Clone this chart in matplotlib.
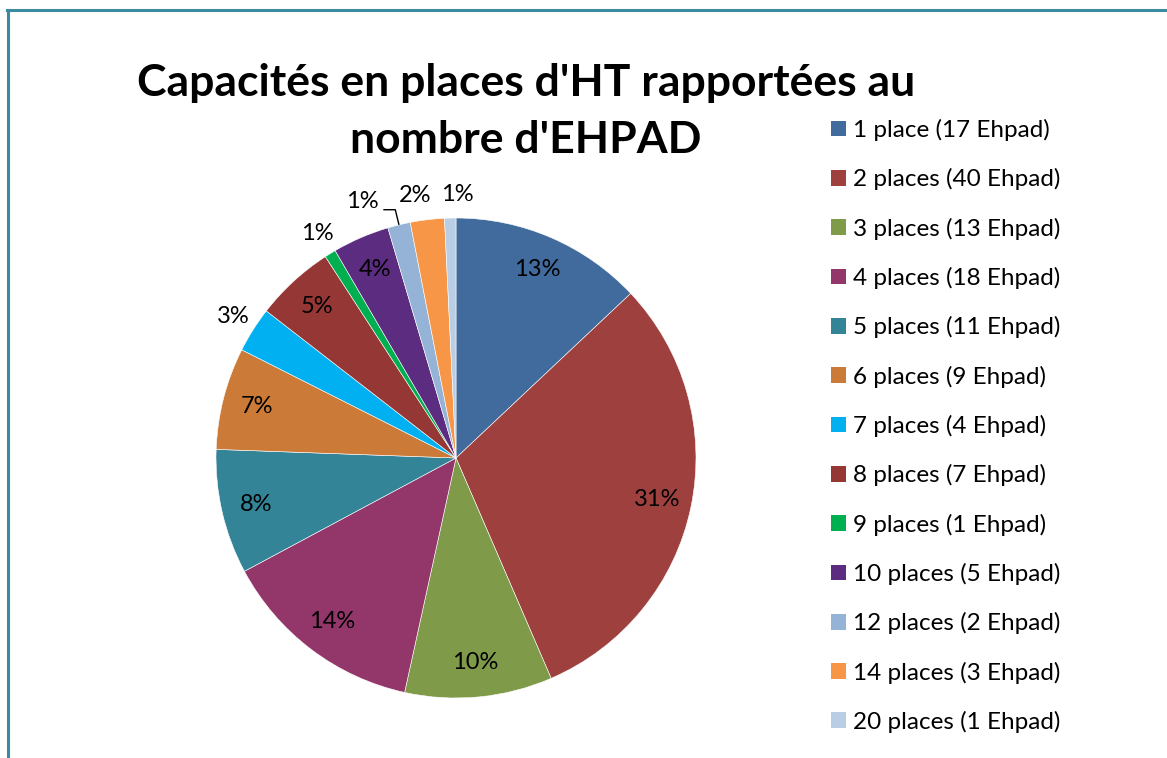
import numpy as np
import matplotlib
matplotlib.use("Agg")
import matplotlib.pyplot as plt
from matplotlib.lines import Line2D
from matplotlib.patches import Patch

categories = ["1 place (17 Ehpad)", "2 places (40 Ehpad)", "3 places (13 Ehpad)",
              "4 places (18 Ehpad)", "5 places (11 Ehpad)", "6 places (9 Ehpad)",
              "7 places (4 Ehpad)", "8 places (7 Ehpad)", "9 places (1 Ehpad)",
              "10 places (5 Ehpad)", "12 places (2 Ehpad)", "14 places (3 Ehpad)",
              "20 places (1 Ehpad)"]
counts = [17, 40, 13, 18, 11, 9, 4, 7, 1, 5, 2, 3, 1]
pct_labels = ["13%", "31%", "10%", "14%", "8%", "7%", "3%", "5%", "1%", "4%", "1%", "2%", "1%"]
colors = ["#416B9D", "#9E413E", "#7F9A48", "#93376B", "#338497", "#CC7A37",
          "#00B0F0", "#953735", "#00B050", "#5B2C80", "#95B3D7", "#F79646", "#B9CDE5"]
outside = [False, False, False, False, False, False, True, False, True, False, True, True, True]
leader = [False] * 10 + [True, False, False]
# small horizontal nudges (axis units) for crowded outside labels
nudge_x = [0, 0, 0, 0, 0, 0, 0, 0, 0, 0, 0, -0.04, 0.03]
title_lines = ["Capacités en places d'HT rapportées au", "nombre d'EHPAD"]

plt.rcParams['font.family'] = ['Lato', 'DejaVu Sans']

W, H = 1167, 758
fig = plt.figure(figsize=(W / 100, H / 100), dpi=100)

# pie axes: center (456,458) px, radius 240 px
cx, cy, half = 456, 458, 300
ax = fig.add_axes([(cx - half) / W, (H - cy - half) / H, 2 * half / W, 2 * half / H])
wedges, _ = ax.pie(counts, colors=colors, startangle=90, counterclock=False,
                   wedgeprops=dict(linewidth=0.4, edgecolor='white'))
ax.set_xlim(-1.25, 1.25)
ax.set_ylim(-1.25, 1.25)
ax.set_aspect('equal')
ax.axis('off')

fs = 17
for w, lab, out, ld, nx in zip(wedges, pct_labels, outside, leader, nudge_x):
    mid = np.deg2rad((w.theta1 + w.theta2) / 2)
    ux, uy = np.cos(mid), np.sin(mid)
    if ld:
        p0 = (ux * 1.0, uy * 1.0)
        p1 = (ux * 1.065, uy * 1.065)
        p2 = (p1[0] - 0.05, p1[1])
        ax.plot([p0[0], p1[0], p2[0]], [p0[1], p1[1], p2[1]], color='black', lw=1.0,
                solid_capstyle='butt', clip_on=False)
        ax.text(p2[0] - 0.02, p2[1] + 0.035, lab, ha='right', va='center', fontsize=fs)
    elif out:
        r = 1.1
        ax.text(ux * r + nx, uy * r, lab, ha='center', va='center', fontsize=fs)
    else:
        r = 0.855
        ax.text(ux * r, uy * r, lab, ha='center', va='center', fontsize=fs)

fig.text(526 / W, 1 - 96 / H, title_lines[0], ha='center', va='baseline', fontsize=32,
         fontweight='bold')
fig.text(526 / W, 1 - 153 / H, title_lines[1], ha='center', va='baseline', fontsize=32,
         fontweight='bold')

handles = [Patch(facecolor=c, edgecolor='none') for c in colors]
fig.legend(handles, categories, loc='upper left', bbox_to_anchor=(831 / W, 1 - 119 / H),
           frameon=False, fontsize=17.5, handlelength=0.62, handleheight=0.62,
           handletextpad=0.3, labelspacing=1.12, borderaxespad=0, borderpad=0)

# frame border (top and left visible)
bc = "#3A8AA0"
fig.add_artist(Line2D([7 / W, 1.0], [1 - 9.5 / H, 1 - 9.5 / H], color=bc, lw=2.2,
                      transform=fig.transFigure))
fig.add_artist(Line2D([7.5 / W, 7.5 / W], [0, 1 - 9.5 / H], color=bc, lw=2.2,
                      transform=fig.transFigure))

fig.savefig("out.png", dpi=100, facecolor='white')
